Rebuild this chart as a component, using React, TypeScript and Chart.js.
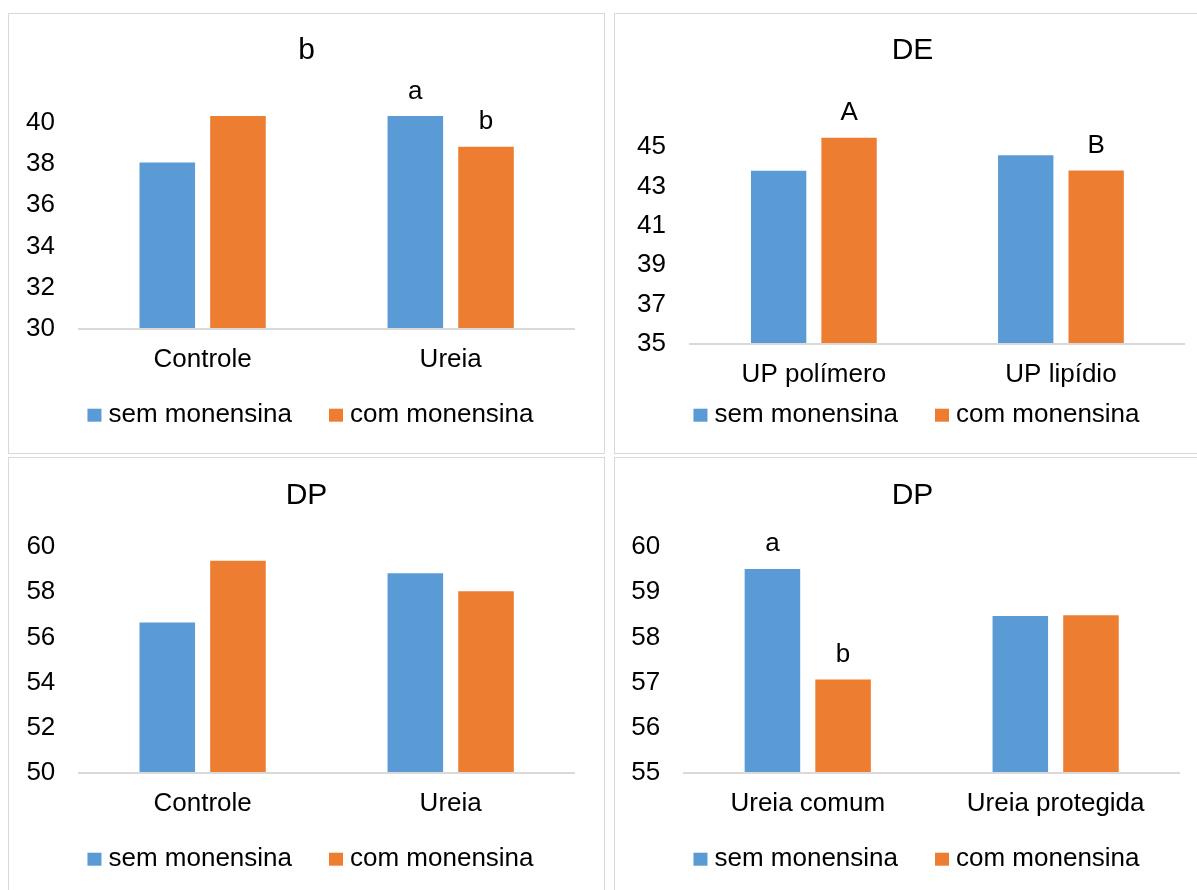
import React, { useEffect, useRef } from 'react';
import { Chart, registerables } from 'chart.js';

Chart.register(...registerables);

// ---------- data ----------
const seriesNames = ['sem monensina', 'com monensina'];
const seriesColors = ['#5B9BD5', '#ED7D31'];

// Panel 1
const p1Title = 'b';
const p1Categories = ['Controle', 'Ureia'];
const p1Sem = [38.06, 40.31];
const p1Com = [40.31, 38.82];
const p1SemLetters = ['', 'a'];
const p1ComLetters = ['', 'b'];
const p1YTicks = [30, 32, 34, 36, 38, 40];

// Panel 2
const p2Title = 'DE';
const p2Categories = ['UP polímero', 'UP lipídio'];
const p2Sem = [43.79, 44.58];
const p2Com = [45.47, 43.81];
const p2SemLetters = ['', ''];
const p2ComLetters = ['A', 'B'];
const p2YTicks = [35, 37, 39, 41, 43, 45];

// Panel 3
const p3Title = 'DP';
const p3Categories = ['Controle', 'Ureia'];
const p3Sem = [56.65, 58.83];
const p3Com = [59.38, 58.03];
const p3SemLetters = ['', ''];
const p3ComLetters = ['', ''];
const p3YTicks = [50, 52, 54, 56, 58, 60];

// Panel 4
const p4Title = 'DP';
const p4Categories = ['Ureia comum', 'Ureia protegida'];
const p4Sem = [59.51, 58.47];
const p4Com = [57.07, 58.49];
const p4SemLetters = ['a', ''];
const p4ComLetters = ['b', ''];
const p4YTicks = [55, 56, 57, 58, 59, 60];

// ---------- styling / layout ----------
const FONT = '"Liberation Sans", Arial, Helvetica, sans-serif';
const TEXT = '#000000';
const AXIS_LINE = '#D9D9D9';
const CANVAS_W = 595;
const CANVAS_H = 439;

type Layout = {
  left: number; top: number;
  yWidth: number; yPad: number; rWidth: number;
  tPadTop: number; tPadBottom: number; padBottom: number;
};

const layouts: Layout[] = [
  { left: 8, top: 13, yWidth: 69.6, yPad: 23.6, rWidth: 29.3, tPadTop: 19, tPadBottom: 53.5, padBottom: 62 },
  { left: 614, top: 13, yWidth: 75.3, yPad: 24.3, rWidth: 25.5, tPadTop: 19, tPadBottom: 78, padBottom: 47 },
  { left: 8, top: 457, yWidth: 69.6, yPad: 23.3, rWidth: 29.3, tPadTop: 19.7, tPadBottom: 33, padBottom: 61.7 },
  { left: 614, top: 457, yWidth: 68.8, yPad: 23.6, rWidth: 30.4, tPadTop: 19.7, tPadBottom: 33, padBottom: 61.7 },
];

const panels = [
  { title: p1Title, categories: p1Categories, series: [p1Sem, p1Com], letters: [p1SemLetters, p1ComLetters], ticks: p1YTicks },
  { title: p2Title, categories: p2Categories, series: [p2Sem, p2Com], letters: [p2SemLetters, p2ComLetters], ticks: p2YTicks },
  { title: p3Title, categories: p3Categories, series: [p3Sem, p3Com], letters: [p3SemLetters, p3ComLetters], ticks: p3YTicks },
  { title: p4Title, categories: p4Categories, series: [p4Sem, p4Com], letters: [p4SemLetters, p4ComLetters], ticks: p4YTicks },
];

// ---------- plugins ----------
const letterPlugin = {
  id: 'barLetters',
  afterDatasetsDraw(chart: any, _args: any, opts: any) {
    const ctx = chart.ctx;
    const letters: string[][] = opts.letters || [];
    ctx.save();
    ctx.font = `26px ${FONT}`;
    ctx.fillStyle = TEXT;
    ctx.textAlign = 'center';
    ctx.textBaseline = 'alphabetic';
    chart.data.datasets.forEach((_ds: any, di: number) => {
      const meta = chart.getDatasetMeta(di);
      meta.data.forEach((bar: any, i: number) => {
        const t = letters[di] && letters[di][i];
        if (t) ctx.fillText(t, bar.x, bar.y - 17.5);
      });
    });
    ctx.restore();
  },
};

const legendPlugin = {
  id: 'excelLegend',
  afterDraw(chart: any) {
    const ctx = chart.ctx;
    ctx.save();
    ctx.font = `26px ${FONT}`;
    const boxW = 14, boxH = 13, gap = 7, itemGap = 37;
    const items = chart.data.datasets.map((ds: any) => ({
      text: ds.label as string,
      color: ds.backgroundColor as string,
      w: ctx.measureText(ds.label).width,
    }));
    const total = items.reduce((s: number, it: any, i: number) => s + boxW + gap + it.w + (i ? itemGap : 0), 0);
    let x = chart.width / 2 + 4 - total / 2;
    const cy = chart.height - 37.8;
    items.forEach((it: any) => {
      ctx.fillStyle = it.color;
      ctx.fillRect(x, cy - boxH / 2, boxW, boxH);
      x += boxW + gap;
      ctx.fillStyle = TEXT;
      ctx.textAlign = 'left';
      ctx.textBaseline = 'alphabetic';
      ctx.fillText(it.text, x, cy + 7);
      x += it.w + itemGap;
    });
    ctx.restore();
  },
};

// ---------- components ----------
function Panel({ idx }: { idx: number }) {
  const ref = useRef<HTMLCanvasElement | null>(null);
  const p = panels[idx];
  const L = layouts[idx];

  useEffect(() => {
    if (!ref.current) return;
    const ticks = p.ticks;
    const chart = new Chart(ref.current, {
      type: 'bar',
      data: {
        labels: p.categories,
        datasets: p.series.map((vals, i) => ({
          label: seriesNames[i],
          data: vals,
          backgroundColor: seriesColors[i],
          borderWidth: 0,
          base: ticks[0],
          categoryPercentage: 0.57,
          barPercentage: 0.786,
          clip: false as any,
          xAxisID: 'x',
          yAxisID: 'y',
        })),
      },
      options: {
        responsive: false,
        animation: false,
        devicePixelRatio: 1,
        layout: { padding: { left: 0, right: 0, top: 0, bottom: L.padBottom } },
        plugins: {
          title: {
            display: true,
            text: p.title,
            color: TEXT,
            font: { family: FONT, size: 30, weight: 'normal' as any, lineHeight: 1.2 },
            padding: { top: L.tPadTop, bottom: L.tPadBottom },
          },
          legend: { display: false },
          tooltip: { enabled: false },
          barLetters: { letters: p.letters },
        } as any,
        scales: {
          x: {
            type: 'category',
            grid: { display: false, drawTicks: false },
            border: { display: true, color: AXIS_LINE, width: 2, z: 1 },
            ticks: {
              color: TEXT,
              font: { family: FONT, size: 26, lineHeight: 1.2 },
              padding: 15.4,
              maxRotation: 0,
              autoSkip: false,
            },
          },
          y: {
            type: 'linear',
            position: 'left',
            min: ticks[0],
            max: ticks[ticks.length - 1],
            grid: { display: false, drawTicks: false },
            border: { display: false },
            ticks: {
              stepSize: ticks[1] - ticks[0],
              color: TEXT,
              font: { family: FONT, size: 26, lineHeight: 1.2 },
              padding: L.yPad,
            },
            afterFit: (s: any) => { s.width = L.yWidth; },
          },
          yR: {
            type: 'linear',
            position: 'right',
            display: true,
            grid: { display: false, drawTicks: false },
            border: { display: false },
            ticks: { display: false },
            afterFit: (s: any) => { s.width = L.rWidth; },
          },
        } as any,
      },
      plugins: [letterPlugin, legendPlugin],
    });
    return () => chart.destroy();
  }, []);

  return (
    <div
      style={{
        position: 'absolute',
        left: L.left,
        top: L.top,
        width: CANVAS_W + 2,
        height: CANVAS_H + 2,
        border: '1px solid #D9D9D9',
        boxSizing: 'border-box',
        background: '#FFFFFF',
      }}
    >
      <canvas
        ref={ref}
        width={CANVAS_W}
        height={CANVAS_H}
        style={{ display: 'block', width: CANVAS_W, height: CANVAS_H }}
      />
    </div>
  );
}

export default function App() {
  return (
    <div
      style={{
        position: 'absolute',
        left: 0,
        top: 0,
        width: 1197,
        height: 890,
        overflow: 'hidden',
        background: '#FFFFFF',
      }}
    >
      {panels.map((_, i) => (
        <Panel key={i} idx={i} />
      ))}
    </div>
  );
}
